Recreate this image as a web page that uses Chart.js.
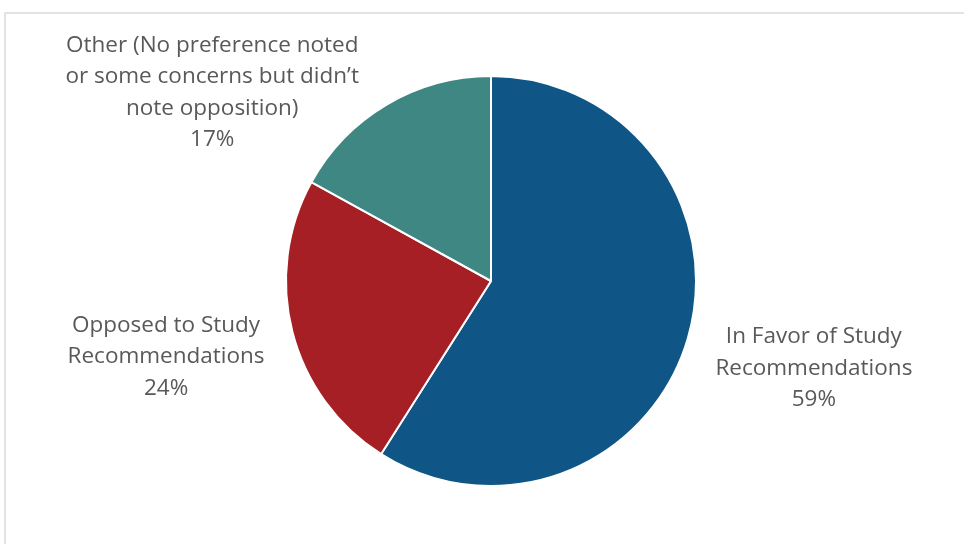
<!DOCTYPE html>
<html>
<head>
<meta charset="utf-8">
<script src="https://cdn.jsdelivr.net/npm/chart.js@4/dist/chart.umd.min.js"></script>
<style>
html,body{margin:0;padding:0;background:#fff;}
#wrap{width:964px;height:544px;position:relative;}
</style>
</head>
<body>
<div id="wrap"><canvas id="c" width="964" height="544"></canvas></div>
<script>
const categories = ["In Favor of Study Recommendations", "Opposed to Study Recommendations", "Other (No preference noted or some concerns but didn't note opposition)"];
const labelLines = [
  ["In Favor of Study", "Recommendations"],
  ["Opposed to Study", "Recommendations"],
  ["Other (No preference noted", "or some concerns but didn\u2019t", "note opposition)"]
];
const values = [59, 24, 17];
const colors = ["#0F5585", "#A51F24", "#3F8783"];
// label anchor offsets (relative to pie centre, in radii)
const labelOffsets = [[1.575, 0.425], [-1.585, 0.37], [-1.36, -0.92]];

const frame = {
  id: 'frame',
  beforeDraw(chart) {
    const ctx = chart.ctx;
    ctx.save();
    ctx.strokeStyle = '#e3e3e3';
    ctx.lineWidth = 2;
    ctx.beginPath();
    ctx.moveTo(5, 560);
    ctx.lineTo(5, 13);
    ctx.lineTo(980, 13);
    ctx.stroke();
    ctx.restore();
  }
};

const sliceLabels = {
  id: 'sliceLabels',
  afterDraw(chart) {
    const meta = chart.getDatasetMeta(0);
    const ctx = chart.ctx;
    ctx.save();
    ctx.font = '22.5px "Open Sans", "Noto Sans", sans-serif';
    ctx.fillStyle = '#595959';
    ctx.textAlign = 'center';
    ctx.textBaseline = 'middle';
    const lh = 31.5;
    meta.data.forEach((arc, i) => {
      const r = arc.outerRadius;
      const cx = arc.x + labelOffsets[i][0] * r;
      const cy = arc.y + labelOffsets[i][1] * r;
      const lines = labelLines[i].concat([values[i] + '%']);
      const y0 = cy - (lines.length - 1) * lh / 2;
      lines.forEach((t, k) => ctx.fillText(t, cx, y0 + k * lh));
    });
    ctx.restore();
  }
};

new Chart(document.getElementById('c'), {
  type: 'pie',
  data: {
    labels: categories,
    datasets: [{
      data: values,
      backgroundColor: colors,
      borderColor: '#ffffff',
      borderWidth: 2,
      hoverOffset: 0
    }]
  },
  options: {
    responsive: false,
    animation: false,
    layout: { padding: { left: 18, right: 0, top: 75, bottom: 57 } },
    plugins: {
      legend: { display: false },
      tooltip: { enabled: false }
    }
  },
  plugins: [frame, sliceLabels]
});
</script>
</body>
</html>
